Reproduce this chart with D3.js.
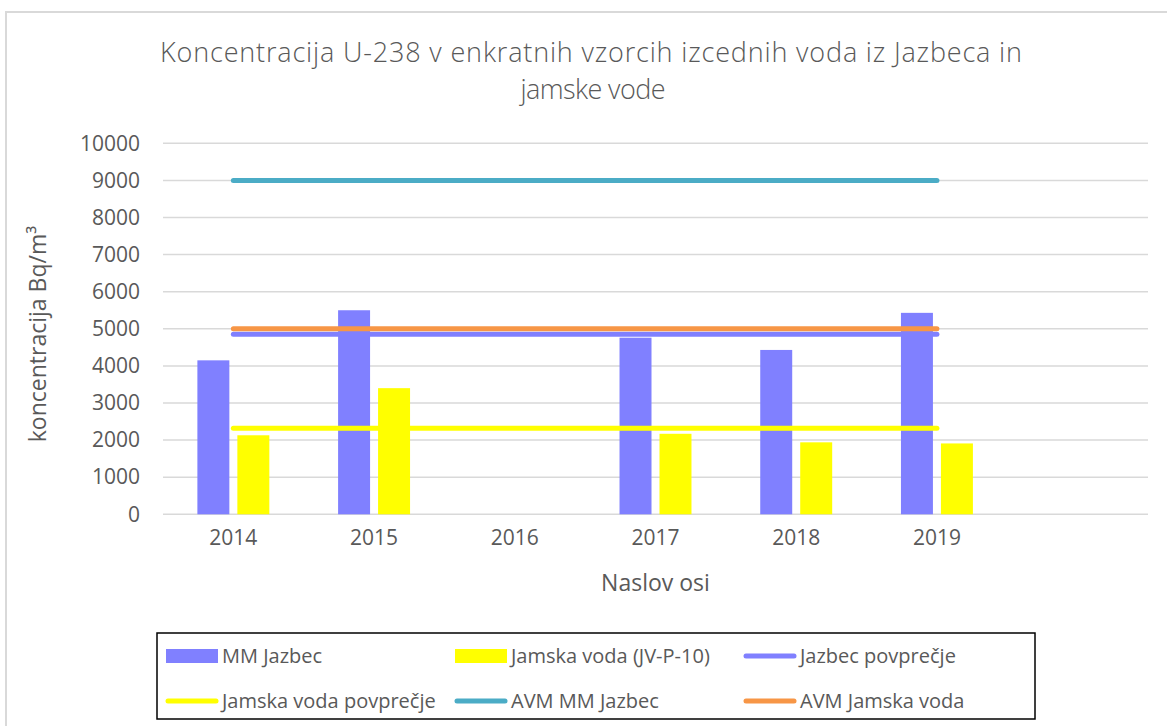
<!DOCTYPE html>
<html lang="sl">
<head>
    <meta charset="UTF-8">
    <title>Koncentracija U-238</title>
    <style>
        body { margin: 0; background: #fff; }
        text { font-family: "Open Sans", sans-serif; fill: #595959; }
    </style>
</head>
<body>
<script type='text/javascript' src='https://d3js.org/d3.v7.min.js'></script>
<script>
    // data
    var categories = ["2014", "2015", "2016", "2017", "2018", "2019", ""];
    var mmJazbec = [4150, 5500, null, 4760, 4430, 5430, null];
    var jamskaVoda = [2130, 3400, null, 2170, 1940, 1910, null];
    var lineYears = ["2014", "2015", "2016", "2017", "2018", "2019"];
    var jazbecAvg = [4850, 4850, 4850, 4850, 4850, 4850];
    var jamskaAvg = [2320, 2320, 2320, 2320, 2320, 2320];
    var avmJazbec = [9000, 9000, 9000, 9000, 9000, 9000];
    var avmJamska = [5000, 5000, 5000, 5000, 5000, 5000];
    var yTicks = [0, 1000, 2000, 3000, 4000, 5000, 6000, 7000, 8000, 9000, 10000];

    const width = 1167;
    const height = 726;
    const plot = {left: 163, right: 1148, top: 143.3, bottom: 514.3};

    const svg = d3.select("body")
        .append("svg")
        .attr("width", width)
        .attr("height", height);

    // chart frame (runs off the picture to the right and bottom)
    svg.append("rect")
        .attr("x", 6).attr("y", 12)
        .attr("width", 1200).attr("height", 760)
        .attr("fill", "#fff")
        .attr("stroke", "#d9d9d9")
        .attr("stroke-width", 2);

    // title - the original font is narrow, so spread it out to the same width
    var title = svg.append("text")
        .attr("text-anchor", "middle")
        .style("font-size", "27px")
        .style("font-weight", 300)
        .attr("fill", "#4d4d4d");
    title.append("tspan").attr("x", 591).attr("y", 62)
        .attr("textLength", 862)
        .attr("lengthAdjust", "spacing")
        .text("Koncentracija U-238 v enkratnih vzorcih izcednih voda iz Jazbeca in");
    title.append("tspan").attr("x", 593).attr("y", 99)
        .attr("textLength", 145)
        .attr("lengthAdjust", "spacing")
        .text("jamske vode");

    var x = d3.scaleBand()
        .domain(categories)
        .range([plot.left, plot.right]);
    var xSeries = d3.scaleBand()
        .domain(["mm", "jv"])
        .range([0, x.bandwidth()])
        .paddingInner(0.2)
        .paddingOuter(0.86);
    var y = d3.scaleLinear()
        .domain([0, 10000])
        .range([plot.bottom, plot.top]);

    // gridlines
    svg.append("g")
        .selectAll("line")
        .data(yTicks)
        .enter()
        .append("line")
        .attr("x1", plot.left).attr("x2", plot.right)
        .attr("y1", d => y(d)).attr("y2", d => y(d))
        .attr("stroke", "#d9d9d9")
        .attr("stroke-width", 1.5);

    // y axis labels
    var yAxis = svg.append("g")
        .attr("transform", "translate(" + (plot.left - 8) + ",0)")
        .call(d3.axisLeft(y).tickValues(yTicks).tickSize(0).tickPadding(15).tickFormat(d3.format("d")));
    yAxis.select(".domain").remove();
    yAxis.selectAll("text")
        .style("font-size", "21px")
        .attr("fill", "#595959")
        .attr("font-family", null);

    // x axis labels
    var xAxis = svg.append("g")
        .attr("transform", "translate(0," + plot.bottom + ")")
        .call(d3.axisBottom(x).tickSize(0).tickPadding(16));
    xAxis.select(".domain").remove();
    xAxis.selectAll("text")
        .style("font-size", "21px")
        .attr("fill", "#595959")
        .attr("font-family", null);

    // bars
    function drawBars(values, key, color) {
        svg.append("g")
            .selectAll("rect")
            .data(categories.map((c, i) => ({cat: c, v: values[i]})).filter(d => d.v != null))
            .enter()
            .append("rect")
            .attr("x", d => x(d.cat) + xSeries(key))
            .attr("width", xSeries.bandwidth())
            .attr("y", d => y(d.v))
            .attr("height", d => y(0) - y(d.v))
            .attr("fill", color);
    }
    drawBars(mmJazbec, "mm", "#8080ff");
    drawBars(jamskaVoda, "jv", "#ffff00");

    // horizontal reference lines
    var line = d3.line()
        .x(d => x(d.cat) + x.bandwidth() / 2)
        .y(d => y(d.v));
    function drawLine(values, color) {
        svg.append("path")
            .datum(lineYears.map((c, i) => ({cat: c, v: values[i]})))
            .attr("d", line)
            .attr("fill", "none")
            .attr("stroke", color)
            .attr("stroke-width", 5)
            .attr("stroke-linecap", "round");
    }
    drawLine(jazbecAvg, "#8080ff");
    drawLine(jamskaAvg, "#ffff00");
    drawLine(avmJazbec, "#4bacc6");
    drawLine(avmJamska, "#f79646");

    // axis titles
    svg.append("text")
        .attr("transform", "translate(46,334) rotate(-90)")
        .attr("text-anchor", "middle")
        .style("font-size", "23px")
        .text("koncentracija Bq/m³");
    svg.append("text")
        .attr("x", (plot.left + plot.right) / 2)
        .attr("y", 591)
        .attr("text-anchor", "middle")
        .style("font-size", "23px")
        .text("Naslov osi");

    // legend
    var legendItems = [
        {name: "MM Jazbec", color: "#8080ff", type: "bar"},
        {name: "Jamska voda (JV-P-10)", color: "#ffff00", type: "bar"},
        {name: "Jazbec povprečje", color: "#8080ff", type: "line"},
        {name: "Jamska voda povprečje", color: "#ffff00", type: "line"},
        {name: "AVM MM Jazbec", color: "#4bacc6", type: "line"},
        {name: "AVM Jamska voda", color: "#f79646", type: "line"}
    ];
    svg.append("rect")
        .attr("x", 157).attr("y", 633)
        .attr("width", 878).attr("height", 86)
        .attr("fill", "none")
        .attr("stroke", "#000")
        .attr("stroke-width", 1.5);
    var legend = svg.selectAll(".legend")
        .data(legendItems)
        .enter()
        .append("g")
        .attr("class", "legend")
        .attr("transform", (d, i) => "translate(" + (166 + (i % 3) * 289) + "," + (656 + Math.floor(i / 3) * 45) + ")");
    legend.filter(d => d.type == "bar")
        .append("rect")
        .attr("x", 0).attr("y", -7)
        .attr("width", 52).attr("height", 14)
        .attr("fill", d => d.color);
    legend.filter(d => d.type == "line")
        .append("line")
        .attr("x1", 2).attr("x2", 50)
        .attr("stroke", d => d.color)
        .attr("stroke-width", 5)
        .attr("stroke-linecap", "round");
    legend.append("text")
        .attr("x", 56)
        .attr("dy", "0.35em")
        .style("font-size", "20px")
        .text(d => d.name);
</script>
</body>
</html>
